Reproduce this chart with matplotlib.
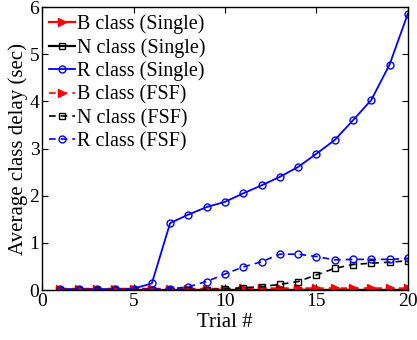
import matplotlib
matplotlib.use('Agg')
from matplotlib import pyplot as plt
import numpy as np

trials = np.arange(1, 21)
b_single = [0.01, 0.01, 0.01, 0.01, 0.01, 0.01, 0.01, 0.01, 0.01, 0.01,
            0.01, 0.01, 0.01, 0.01, 0.01, 0.01, 0.01, 0.01, 0.01, 0.01]
n_single = [0.01, 0.01, 0.01, 0.01, 0.01, 0.01, 0.01, 0.01, 0.01, 0.01,
            0.01, 0.01, 0.01, 0.01, 0.01, 0.01, 0.01, 0.01, 0.01, 0.01]
r_single = [0.02, 0.02, 0.02, 0.02, 0.03, 0.14, 1.42, 1.60, 1.76, 1.87,
            2.05, 2.22, 2.40, 2.61, 2.89, 3.18, 3.60, 4.03, 4.78, 5.86]
b_fsf = [0.03, 0.03, 0.03, 0.03, 0.03, 0.03, 0.03, 0.03, 0.03, 0.03,
         0.04, 0.04, 0.04, 0.04, 0.04, 0.04, 0.04, 0.04, 0.04, 0.04]
n_fsf = [0.01, 0.01, 0.01, 0.01, 0.01, 0.01, 0.01, 0.01, 0.01, 0.02,
         0.05, 0.07, 0.12, 0.18, 0.32, 0.46, 0.54, 0.57, 0.59, 0.62]
r_fsf = [0.01, 0.01, 0.01, 0.01, 0.01, 0.01, 0.02, 0.07, 0.18, 0.34,
         0.49, 0.60, 0.76, 0.76, 0.71, 0.64, 0.65, 0.65, 0.65, 0.67]

plt.rcParams['font.family'] = ['Liberation Serif', 'DejaVu Serif']

fig = plt.figure(figsize=(4.17, 3.40), dpi=100)
axis = fig.add_axes([0.101, 0.147, 0.877, 0.832])

axis.plot(trials, b_single, '-', color='red', marker='>', markersize=6, mfc='red', lw=1.6, label='B class (Single)')
axis.plot(trials, n_single, '-', color='black', marker='s', markersize=4, mfc='none', lw=1.6, label='N class (Single)')
axis.plot(trials, r_single, '-', color='blue', marker='o', markersize=5, mfc='none', lw=1.3, label='R class (Single)')
axis.plot(trials, b_fsf, '--', color='red', marker='>', markersize=6, mfc='red', lw=1.2, dashes=(4, 3), label='B class (FSF)')
axis.plot(trials, n_fsf, '--', color='black', marker='s', markersize=4, mfc='none', lw=1.2, dashes=(4, 3), label='N class (FSF)')
axis.plot(trials, r_fsf, '--', color='blue', marker='o', markersize=5, mfc='none', lw=1.2, dashes=(4, 3), label='R class (FSF)')

axis.set_xlim(0, 20)
axis.set_ylim(0, 6)
axis.set_xticks([0, 5, 10, 15, 20])
axis.set_yticks([0, 1, 2, 3, 4, 5, 6])
axis.tick_params(direction='in', top=True, right=True, labelsize=14, pad=2, length=4)
axis.set_xlabel('Trial #', fontsize=15, labelpad=2)
axis.set_ylabel('Average class delay (sec)', fontsize=15, labelpad=1)
for s in axis.spines.values():
    s.set_linewidth(1.0)

axis.legend(loc='upper left', frameon=False, fontsize=14.5, handlelength=1.3,
            handletextpad=0.1, labelspacing=0.2, borderaxespad=0.15, borderpad=0.2)

plt.savefig('out.png', dpi=100)
